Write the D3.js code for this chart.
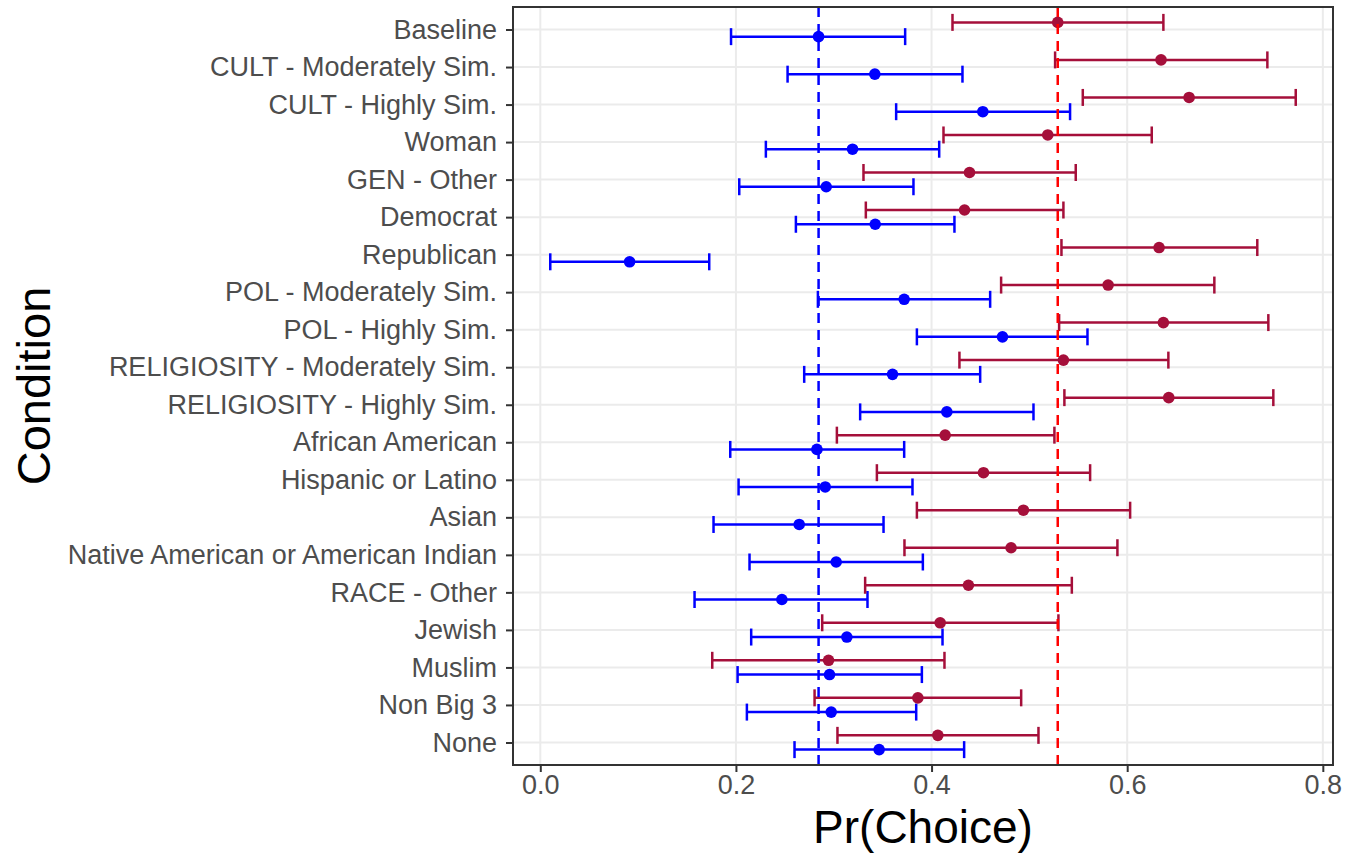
<!DOCTYPE html>
<html>
<head>
<meta charset="utf-8">
<script src="https://cdn.jsdelivr.net/npm/d3@7"></script>
<style>
  body { margin: 0; background: #fff; }
  text { font-family: "Liberation Sans", Arial, sans-serif; }
</style>
</head>
<body>
<div id="chart"></div>
<script>
const categories = [
  "Baseline", "CULT - Moderately Sim.", "CULT - Highly Sim.", "Woman", "GEN - Other",
  "Democrat", "Republican", "POL - Moderately Sim.", "POL - Highly Sim.",
  "RELIGIOSITY - Moderately Sim.", "RELIGIOSITY - Highly Sim.", "African American",
  "Hispanic or Latino", "Asian", "Native American or American Indian", "RACE - Other",
  "Jewish", "Muslim", "Non Big 3", "None"
];

// blue group
const blueEst = [0.2845, 0.342, 0.4524, 0.3192, 0.2923, 0.3424, 0.0913, 0.372, 0.4725, 0.3601,
  0.4156, 0.2828, 0.2913, 0.2647, 0.3025, 0.247, 0.3134, 0.2957, 0.2974, 0.3464];
const blueLo = [0.195, 0.2528, 0.3638, 0.2306, 0.2034, 0.2613, 0.0102, 0.2838, 0.385, 0.2698,
  0.327, 0.1942, 0.2027, 0.1771, 0.2139, 0.1577, 0.2156, 0.2017, 0.2112, 0.2599];
const blueHi = [0.373, 0.4316, 0.5416, 0.4078, 0.3815, 0.4234, 0.1727, 0.4599, 0.5594, 0.4497,
  0.5042, 0.372, 0.3805, 0.3509, 0.3911, 0.3345, 0.4112, 0.3901, 0.3843, 0.4333];

// red group
const redEst = [0.529, 0.6346, 0.6633, 0.5188, 0.4388, 0.4337, 0.6326, 0.5805, 0.637, 0.5348,
  0.6425, 0.4139, 0.4531, 0.4939, 0.4813, 0.4377, 0.4088, 0.2947, 0.386, 0.4064];
const redLo = [0.4214, 0.5263, 0.5546, 0.4122, 0.3304, 0.3328, 0.5328, 0.4711, 0.5304, 0.4285,
  0.5358, 0.3032, 0.3441, 0.385, 0.3723, 0.3321, 0.2882, 0.1758, 0.2804, 0.3038];
const redHi = [0.637, 0.7433, 0.7723, 0.6251, 0.5474, 0.5348, 0.733, 0.6891, 0.7443, 0.6421,
  0.7494, 0.5256, 0.5621, 0.603, 0.59, 0.5434, 0.5297, 0.4132, 0.4916, 0.5093];

const xTicks = [0.0, 0.2, 0.4, 0.6, 0.8];

const width = 1348;
const height = 855;
const panel = {left: 513, right: 1333, top: 7, bottom: 765};

const blueCol = "#0000FF";
const redCol = "#A50F3A";

const groups = [
  {est: blueEst, lo: blueLo, hi: blueHi, color: blueCol, shift: 0.19},
  {est: redEst, lo: redLo, hi: redHi, color: redCol, shift: -0.19}
];

const svg = d3.select("#chart")
  .append("svg")
  .attr("width", width)
  .attr("height", height);

// ggplot-style 5% expansion
const allVals = blueLo.concat(blueHi, redLo, redHi);
const lo = d3.min(allVals), hi = d3.max(allVals);
const pad = (hi - lo) * 0.05;

const x = d3.scaleLinear().domain([lo - pad, hi + pad]).range([panel.left, panel.right]);
const y = d3.scalePoint().domain(categories).range([panel.top, panel.bottom]).padding(0.6);
const step = y.step();

// grid
svg.append("g")
  .selectAll("line")
  .data(xTicks)
  .join("line")
  .attr("x1", d => x(d)).attr("x2", d => x(d))
  .attr("y1", panel.top).attr("y2", panel.bottom)
  .attr("stroke", "#EBEBEB").attr("stroke-width", 2);

svg.append("g")
  .selectAll("line")
  .data(categories)
  .join("line")
  .attr("x1", panel.left).attr("x2", panel.right)
  .attr("y1", d => y(d)).attr("y2", d => y(d))
  .attr("stroke", "#EBEBEB").attr("stroke-width", 2);

// error bars + points
groups.forEach(g => {
  const rows = categories.map((c, i) => ({c, est: g.est[i], lo: g.lo[i], hi: g.hi[i]}));
  const gg = svg.append("g")
    .attr("stroke", g.color)
    .attr("fill", g.color);
  const yy = d => y(d.c) + g.shift * step;

  gg.selectAll("line.bar")
    .data(rows)
    .join("line")
    .attr("class", "bar")
    .attr("x1", d => x(d.lo)).attr("x2", d => x(d.hi))
    .attr("y1", yy).attr("y2", yy)
    .attr("stroke-width", 2.5);

  [d => d.lo, d => d.hi].forEach(acc => {
    gg.selectAll(null)
      .data(rows)
      .join("line")
      .attr("x1", d => x(acc(d))).attr("x2", d => x(acc(d)))
      .attr("y1", d => yy(d) - 8.5).attr("y2", d => yy(d) + 8.5)
      .attr("stroke-width", 2.5);
  });

  gg.selectAll("circle")
    .data(rows)
    .join("circle")
    .attr("cx", d => x(d.est))
    .attr("cy", yy)
    .attr("r", 5.8)
    .attr("stroke", "none");
});

// reference lines at baseline estimates
[[blueEst[0], blueCol], [redEst[0], "#FF0000"]].forEach(([v, col]) => {
  svg.append("line")
    .attr("x1", x(v)).attr("x2", x(v))
    .attr("y1", panel.top).attr("y2", panel.bottom)
    .attr("stroke", col)
    .attr("stroke-width", 2.5)
    .attr("stroke-dasharray", "10,7");
});

// panel border
svg.append("rect")
  .attr("x", panel.left).attr("y", panel.top)
  .attr("width", panel.right - panel.left)
  .attr("height", panel.bottom - panel.top)
  .attr("fill", "none")
  .attr("stroke", "#333333")
  .attr("stroke-width", 2);

// axes
const xAxis = svg.append("g")
  .attr("transform", `translate(0,${panel.bottom + 1})`)
  .call(d3.axisBottom(x).tickValues(xTicks).tickFormat(d3.format(".1f")).tickSize(6).tickPadding(3));

const yAxis = svg.append("g")
  .attr("transform", `translate(${panel.left - 1},0)`)
  .call(d3.axisLeft(y).tickSize(6).tickPadding(9));

[xAxis, yAxis].forEach(a => {
  a.select(".domain").remove();
  a.selectAll(".tick line").attr("stroke", "#333333").attr("stroke-width", 2);
  a.selectAll(".tick text")
    .attr("fill", "#4D4D4D")
    .style("font-size", "27px")
    .style("font-family", "'Liberation Sans', Arial, sans-serif");
});

// titles
svg.append("text")
  .attr("x", (panel.left + panel.right) / 2)
  .attr("y", 843)
  .attr("text-anchor", "middle")
  .style("font-size", "46px")
  .text("Pr(Choice)");

svg.append("text")
  .attr("transform", `translate(50,${(panel.top + panel.bottom) / 2}) rotate(-90)`)
  .attr("text-anchor", "middle")
  .style("font-size", "47px")
  .text("Condition");
</script>
</body>
</html>
